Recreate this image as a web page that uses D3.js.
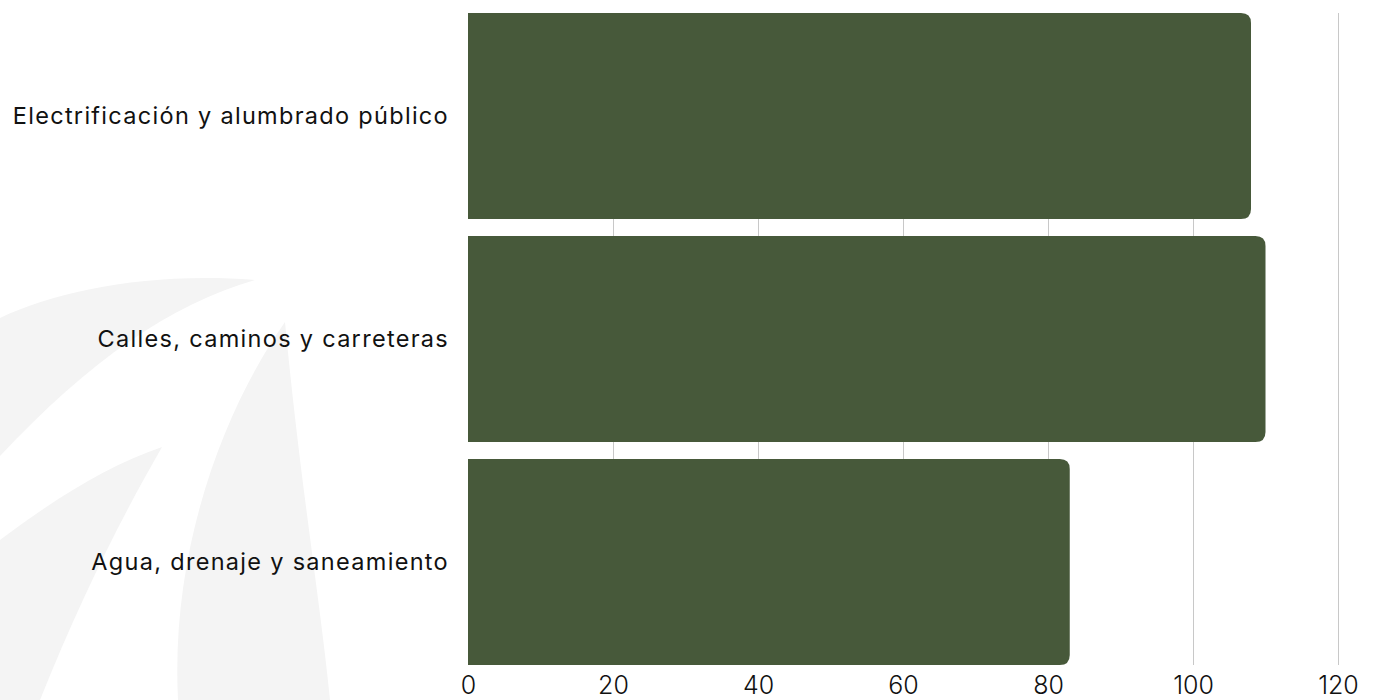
<!DOCTYPE html>
<html>
<head>
<meta charset="utf-8">
<script src="https://cdn.jsdelivr.net/npm/d3@7"></script>
<style>
  body { margin: 0; background: #fff; }
  svg text { font-family: Inter, "Noto Sans", sans-serif; fill: #111; }
</style>
</head>
<body>
<div id="chart"></div>
<script>
// data
const categories = ["Electrificación y alumbrado público", "Calles, caminos y carreteras", "Agua, drenaje y saneamiento"];
const values = [108, 110, 83];
const xTicks = [0, 20, 40, 60, 80, 100, 120];

const width = 1377, height = 700;
const margin = { top: 13, right: 39, bottom: 35, left: 468 };

const svg = d3.select("#chart").append("svg")
    .attr("width", width)
    .attr("height", height);

// faint leaf watermark in the background
const bg = svg.append("g").attr("fill", "#f4f4f4");
bg.append("path").attr("d", "M0,318 C60,290 150,272 255,280 C170,305 90,360 0,456 Z");
bg.append("path").attr("d", "M0,540 C60,495 110,465 162,447 C120,520 80,600 40,700 L0,700 Z");
bg.append("path").attr("d", "M285,322 C230,400 170,540 178,700 L330,700 C320,600 300,480 285,322 Z");

const plotW = width - margin.left - margin.right;
const plotH = height - margin.top - margin.bottom;
const g = svg.append("g").attr("transform", `translate(${margin.left},${margin.top})`);

const x = d3.scaleLinear().domain([0, 120]).range([0, plotW]);
const y = d3.scaleBand().domain(categories).range([0, plotH]).paddingInner(0.076).paddingOuter(0);

// gridlines
g.selectAll(".grid")
    .data(xTicks.slice(1))
    .enter()
    .append("line")
    .attr("class", "grid")
    .attr("x1", d => Math.round(x(d)) + 0.5)
    .attr("x2", d => Math.round(x(d)) + 0.5)
    .attr("y1", 0)
    .attr("y2", plotH)
    .attr("stroke", "#c8c8c8")
    .attr("stroke-width", 1);

// bars with rounded right end
const r = 10;
g.selectAll(".bar")
    .data(categories)
    .enter()
    .append("path")
    .attr("class", "bar")
    .attr("fill", "#47593a")
    .attr("d", (d, i) => {
        const x0 = x(0), x1 = x(values[i]);
        const y0 = y(d), y1 = y(d) + y.bandwidth();
        return `M${x0},${y0} H${x1 - r} Q${x1},${y0} ${x1},${y0 + r} V${y1 - r} Q${x1},${y1} ${x1 - r},${y1} H${x0} Z`;
    });

// category labels
g.selectAll(".cat")
    .data(categories)
    .enter()
    .append("text")
    .attr("class", "cat")
    .attr("x", -19)
    .attr("y", d => y(d) + y.bandwidth() / 2)
    .attr("dy", "0.35em")
    .attr("text-anchor", "end")
    .style("font-size", "23.5px")
    .style("letter-spacing", "1.3px")
    .text(d => d);

// x tick labels
const xAxis = d3.axisBottom(x).tickValues(xTicks).tickSize(0).tickPadding(11);
const ax = g.append("g")
    .attr("transform", `translate(0,${plotH})`)
    .call(xAxis);
ax.select(".domain").remove();
ax.selectAll("text")
    .style("font-size", "25px")
    .style("font-weight", "300")
    .attr("fill", "#111");
</script>
</body>
</html>
